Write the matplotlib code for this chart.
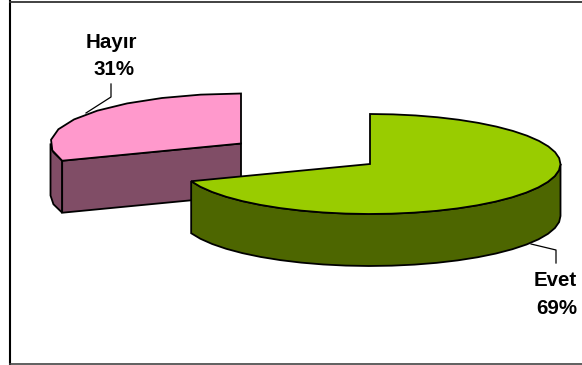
import matplotlib
matplotlib.use('Agg')
import matplotlib.pyplot as plt
import numpy as np
from matplotlib.patches import Polygon

# slice data
names = ['Evet', 'Hayır']
values = [69.4, 30.6]
top_colors = ['#99CC00', '#FF99CC']
side_colors = ['#4D6600', '#804D66']
rim_points = [37, 10]

# pie shape in pixels
rx = 190.5
ry = 50
depth = 52
centers = [(370, 164), (241, 143.5)]

plt.rcParams['font.family'] = ['Liberation Sans', 'DejaVu Sans']

fig = plt.figure(figsize=(5.82, 3.65), dpi=100)
ax = fig.add_axes([0, 0, 1, 1])
ax.set_xlim(0, 582)
ax.set_ylim(365, 0)
ax.axis('off')

# chart frame
ax.plot([9.5, 9.5], [1, 364], color='black', lw=1.5)
ax.plot([9.5, 582], [1.5, 1.5], color='#333333', lw=1.3)
ax.plot([9.5, 582], [364, 364], color='#444444', lw=1.2)


def rim(center, a0, a1, n, drop=0):
    # angle is clockwise from 12 o'clock, in degrees
    t = np.radians(np.linspace(a0, a1, n))
    return np.column_stack([center[0] + rx * np.sin(t),
                            center[1] - ry * np.cos(t) + drop])


def draw_slice(i, a0, a1):
    c = centers[i]
    n = rim_points[i]
    # front of the rim, only the part facing the viewer
    f0, f1 = max(a0, 90), min(a1, 270)
    if f1 > f0:
        m = max(3, int(n * (f1 - f0) / (a1 - a0)) + 1)
        top = rim(c, f0, f1, m)
        low = rim(c, f0, f1, m, depth)
        ax.add_patch(Polygon(np.vstack([top, low[::-1]]), closed=True,
                             fc=side_colors[i], ec='black', lw=1.3, zorder=i * -2 + 3))
    # cut face for a slice ending on the left side
    if a0 > 180 and a1 == 360:
        e = rim(c, a0, a0, 1)[0]
        face = [c, e, (e[0], e[1] + depth), (c[0], c[1] + depth)]
        ax.add_patch(Polygon(face, closed=True, fc=side_colors[i], ec='black',
                             lw=1.3, zorder=i * -2 + 3))
    # top face
    pts = np.vstack([[c], rim(c, a0, a1, n)])
    ax.add_patch(Polygon(pts, closed=True, fc=top_colors[i], ec='black',
                         lw=1.3, zorder=i * -2 + 4))


# slices run clockwise from 12 o'clock
ang = 0
for i, v in enumerate(values):
    sweep = 360 * v / sum(values)
    draw_slice(i, ang, ang + sweep)
    ang += sweep

# leader lines
ax.plot([111, 111, 86], [84, 97, 113], color='black', lw=0.9, zorder=6)
ax.plot([556, 556, 531], [263, 250, 244], color='black', lw=0.9, zorder=6)

# labels
ax.text(111.5, 48, names[1], ha='center', va='baseline', fontsize=14.8, fontweight='bold')
ax.text(113.5, 75, f'{round(values[1])}%', ha='center', va='baseline', fontsize=14.8, fontweight='bold')
ax.text(555.5, 286.5, names[0], ha='center', va='baseline', fontsize=14.8, fontweight='bold')
ax.text(557, 314, f'{round(values[0])}%', ha='center', va='baseline', fontsize=14.8, fontweight='bold')

fig.savefig('out.png', dpi=100)
